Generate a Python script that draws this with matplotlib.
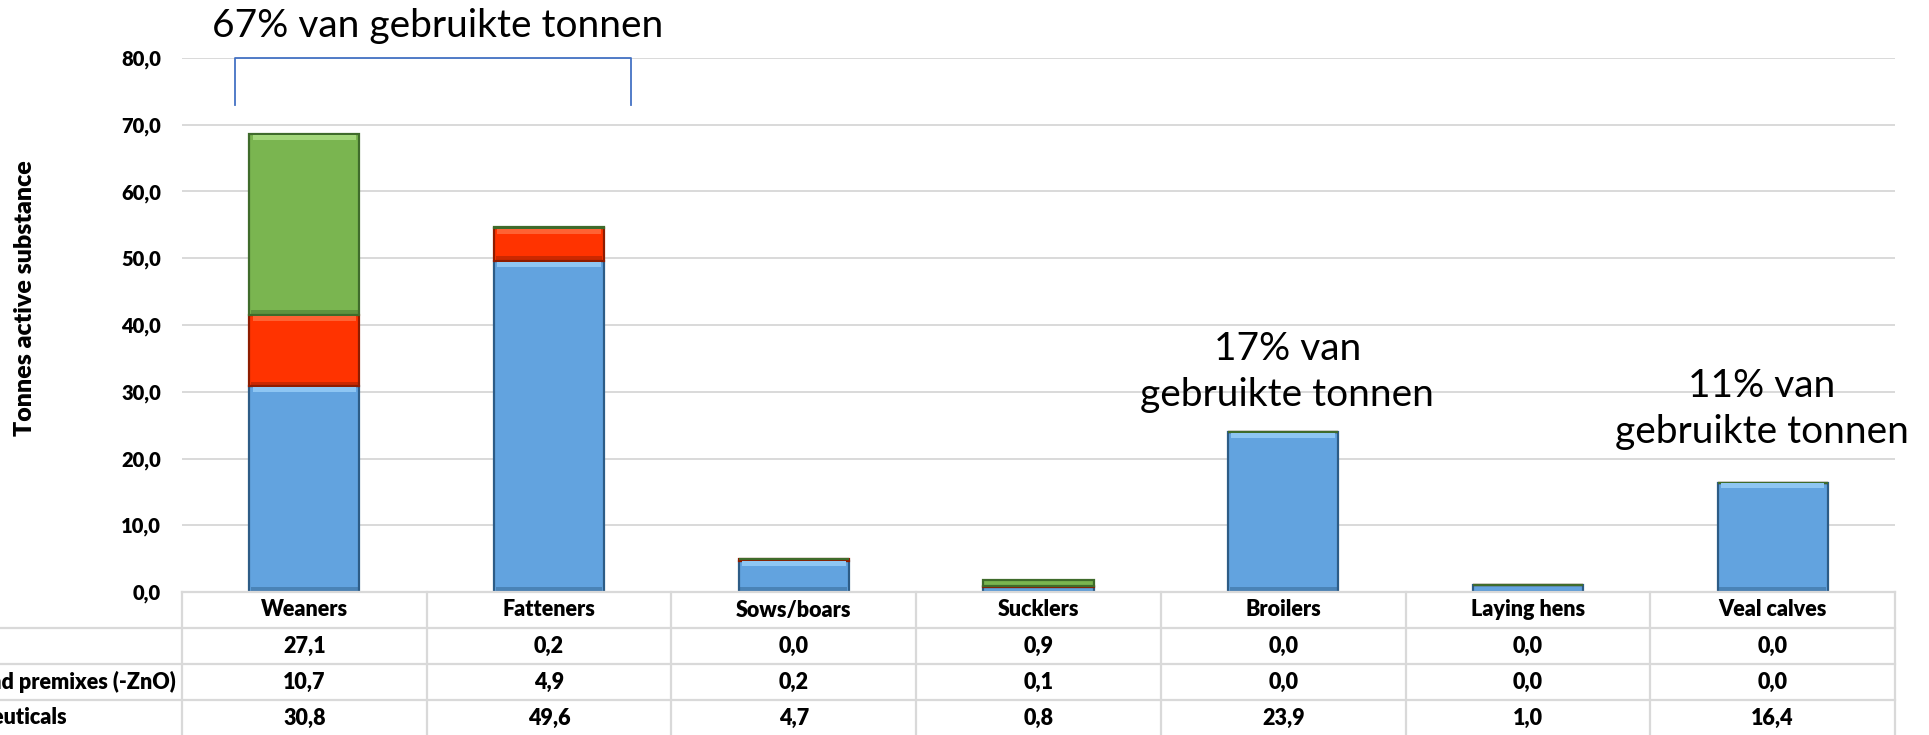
import matplotlib.pyplot as plt
from matplotlib import transforms

# data (tonnes active substance)
categories = ["Weaners", "Fatteners", "Sows/boars", "Sucklers", "Broilers", "Laying hens", "Veal calves"]
zno = [27.1, 0.2, 0.0, 0.9, 0.0, 0.0, 0.0]
premixes = [10.7, 4.9, 0.2, 0.1, 0.0, 0.0, 0.0]
pharma = [30.8, 49.6, 4.7, 0.8, 23.9, 1.0, 16.4]
row_labels = ["", "Medicated feed and premixes (-ZnO)", "Pharmaceuticals"]
yticks = [0, 10, 20, 30, 40, 50, 60, 70, 80]

def fmt(v):
    return f"{v:.1f}".replace(".", ",")

plt.rcParams["font.family"] = ["Lato", "DejaVu Sans"]

W, H = 1929, 735
fig = plt.figure(figsize=(W / 100, H / 100), dpi=100)
left, right, y0, y80 = 182, 1895, 592, 58
ax = fig.add_axes([left / W, (H - y0) / H, (right - left) / W, (y0 - y80) / H])

x = list(range(len(categories)))
bw = 0.45
bottom2 = pharma
bottom3 = [a + b for a, b in zip(pharma, premixes)]
series = [
    (pharma, [0] * len(pharma), "#62A3DF", "#2D5C86", "#8EC6F3"),
    (premixes, bottom2, "#FF3300", "#8E1C00", "#FF6233"),
    (zno, bottom3, "#7AB550", "#3F6B2B", "#A2D67A"),
]
px = 80 / (y0 - y80)  # data units per pixel
for vals, bot, face, edge, light in series:
    ax.bar(x, vals, bw, bottom=bot, color=face, edgecolor=edge, linewidth=1.6, zorder=3)
    # simple bevel: light strip at top, dark strip at bottom
    tops = [b + v for b, v in zip(bot, vals)]
    hl = [min(v, 5 * px) if v > 8 * px else 0 for v in vals]
    ax.bar(x, hl, bw * 0.94, bottom=[t - h - 0.8 * px for t, h in zip(tops, hl)],
           color=light, linewidth=0, zorder=4)
    ax.bar(x, [min(v, 4 * px) if v > 8 * px else 0 for v in vals], bw * 0.97,
           bottom=[b + 0.8 * px for b in bot], color=edge, alpha=0.45, linewidth=0, zorder=4)

ax.set_xlim(-0.5, len(categories) - 0.5)
ax.set_ylim(0, 80)
ax.set_yticks(yticks)
ax.set_yticklabels([fmt(v) for v in yticks], fontweight="heavy", fontsize=14.5)
ax.tick_params(axis="y", length=0, pad=15)
ax.set_xticks([])
ax.grid(axis="y", color="#D9D9D9", linewidth=1.4, zorder=0)
for s in ax.spines.values():
    s.set_visible(False)

fig.text(25 / W, 1 - 298 / H, "Tonnes active substance", rotation=90,
         ha="center", va="center", fontweight="heavy", fontsize=18)

# bracket over weaners + fatteners
bx0, bx1 = -0.284, 1.335
ax.plot([bx0, bx0, bx1, bx1], [73, 80, 80, 73], color="#4472C4", lw=1.3,
        clip_on=False, solid_joinstyle="round", zorder=4)
fig.text(438 / W, 1 - 26 / H, "67% van gebruikte tonnen", ha="center", va="center", fontsize=28)
ax.text(4.016, 33.0, "17% van\ngebruikte tonnen", ha="center", va="center", fontsize=28,
        linespacing=1.36)
ax.text(5.957, 27.4, "11% van\ngebruikte tonnen", ha="center", va="center", fontsize=28,
        linespacing=1.36, clip_on=False)

# data table
tax = fig.add_axes([left / W, -1 / H, (right - left) / W, 144 / H])
tax.set_xlim(-0.5, len(categories) - 0.5)
tax.set_ylim(4, 0)
tax.axis("off")
gc = "#D9D9D9"
tax.plot([-0.5, len(categories) - 0.5], [0, 0], color=gc, lw=1.6, clip_on=False)
xl = -0.5 - left / ((right - left) / len(categories))
for r in [1, 2, 3]:
    tax.plot([xl, len(categories) - 0.5], [r, r], color=gc, lw=1.6, clip_on=False)
for i in range(len(categories) + 1):
    tax.plot([i - 0.5, i - 0.5], [0, 4], color=gc, lw=1.6, clip_on=False)
for i, c in enumerate(categories):
    tax.text(i, 0.5, c, ha="center", va="center", fontweight="heavy", fontsize=15.5)
    for r, s in enumerate([zno, premixes, pharma]):
        tax.text(i, r + 1.5, fmt(s[i]), ha="center", va="center", fontweight="heavy", fontsize=15.5)

tr = transforms.blended_transform_factory(fig.transFigure, tax.transData)
ends = [None, 176, 67]
for r, (lab, e) in enumerate(zip(row_labels, ends)):
    if lab:
        fig.text(e / W, r + 1.5, lab, transform=tr, ha="right", va="center",
                 fontweight="heavy", fontsize=15.5)

fig.savefig("out.png", dpi=100)
